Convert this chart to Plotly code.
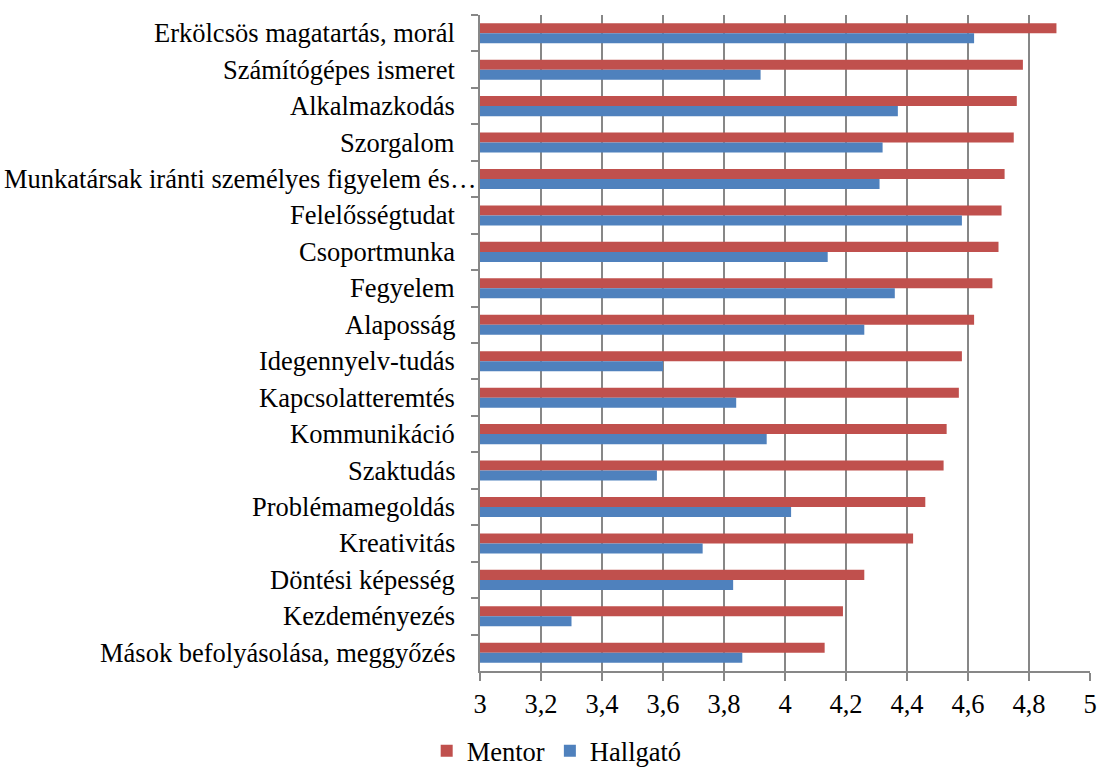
import plotly.graph_objects as go

# Competence categories, top to bottom
categories = [
    "Erkölcsös magatartás, morál",
    "Számítógépes ismeret",
    "Alkalmazkodás",
    "Szorgalom",
    "Munkatársak iránti személyes figyelem és…",
    "Felelősségtudat",
    "Csoportmunka",
    "Fegyelem",
    "Alaposság",
    "Idegennyelv-tudás",
    "Kapcsolatteremtés",
    "Kommunikáció",
    "Szaktudás",
    "Problémamegoldás",
    "Kreativitás",
    "Döntési képesség",
    "Kezdeményezés",
    "Mások befolyásolása, meggyőzés",
]

mentor = [4.89, 4.78, 4.76, 4.75, 4.72, 4.71, 4.70, 4.68, 4.62, 4.58,
          4.57, 4.53, 4.52, 4.46, 4.42, 4.26, 4.19, 4.13]
hallgato = [4.62, 3.92, 4.37, 4.32, 4.31, 4.58, 4.14, 4.36, 4.26, 3.60,
            3.84, 3.94, 3.58, 4.02, 3.73, 3.83, 3.30, 3.86]

x_ticks = [3, 3.2, 3.4, 3.6, 3.8, 4, 4.2, 4.4, 4.6, 4.8, 5]
x_tick_labels = ["3", "3,2", "3,4", "3,6", "3,8", "4", "4,2", "4,4", "4,6", "4,8", "5"]

RED = "#C0504D"
BLUE = "#4F81BD"
GRID = "#878787"
FONT = "Liberation Serif, Times New Roman, serif"
FS = 26.5

fig = go.Figure()
fig.add_trace(go.Bar(
    y=categories, x=mentor, name="Mentor", orientation="h",
    marker=dict(color=RED, line=dict(width=0)),
))
fig.add_trace(go.Bar(
    y=categories, x=hallgato, name="Hallgató", orientation="h",
    marker=dict(color=BLUE, line=dict(width=0)),
))

# Category labels, right-aligned against the value axis; the truncated
# long label is allowed to run closer to the axis line.
for cat in categories:
    fig.add_annotation(
        x=3, y=cat, xref="x", yref="y",
        text=cat, showarrow=False,
        xanchor="right", yanchor="middle",
        xshift=-2 if cat.endswith("…") else -23,
        font=dict(family=FONT, size=FS, color="black"),
    )

fig.update_layout(
    width=1098, height=769,
    margin=dict(l=480, r=8, t=15, b=98, autoexpand=False),
    paper_bgcolor="white", plot_bgcolor="white",
    barmode="group", bargap=0.45, bargroupgap=0,
    font=dict(family=FONT, size=FS, color="black"),
    showlegend=True,
    legend=dict(
        orientation="h", xref="container", yref="paper",
        x=0.507, xanchor="center", y=-0.122, yanchor="middle",
        font=dict(family=FONT, size=FS, color="black"),
        itemwidth=30, tracegroupgap=0,
    ),
)

fig.update_xaxes(
    range=[3, 5], tickvals=x_ticks, ticktext=x_tick_labels,
    showgrid=True, gridcolor=GRID, gridwidth=1.5,
    showline=True, linecolor=GRID, linewidth=1.5,
    ticks="outside", ticklen=8, tickcolor=GRID, tickwidth=1.5,
    ticklabelstandoff=0,
    zeroline=False, fixedrange=True, automargin=False,
)
fig.update_yaxes(
    categoryorder="array", categoryarray=categories, autorange="reversed",
    showline=True, linecolor=GRID, linewidth=1.5,
    ticks="outside", ticklen=7, tickcolor=GRID, tickwidth=1.5,
    tickson="boundaries", showticklabels=False,
    showgrid=False, zeroline=False, fixedrange=True, automargin=False,
)

fig.write_html("out.html")
